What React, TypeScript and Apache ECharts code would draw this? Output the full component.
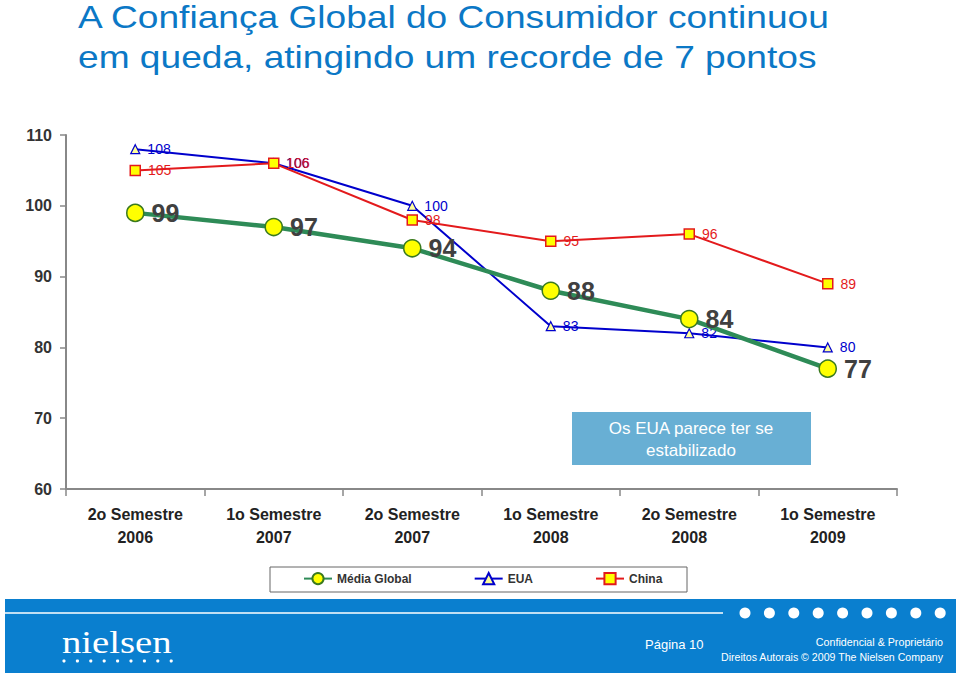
import React, { useEffect, useRef } from "react";
import * as echarts from "echarts";

const categories = [
  "2o Semestre\n2006",
  "1o Semestre\n2007",
  "2o Semestre\n2007",
  "1o Semestre\n2008",
  "2o Semestre\n2008",
  "1o Semestre\n2009",
];
const mediaGlobal = [99, 97, 94, 88, 84, 77];
const eua = [108, 106, 100, 83, 82, 80];
const china = [105, 106, 98, 95, 96, 89];
const yTicks = { min: 60, max: 110, interval: 10 };

const titleLines = [
  "A Confiança Global do Consumidor continuou",
  "em queda, atingindo um recorde de 7 pontos",
];
const noteText = "Os EUA parece ter se\nestabilizado";

const FONT = "'Liberation Sans', Arial, Helvetica, sans-serif";

export default function App() {
  const ref = useRef<HTMLDivElement>(null);

  useEffect(() => {
    if (!ref.current) return;
    const chart = echarts.init(ref.current, null, { renderer: "svg" });

    const bigDots = Array.from({ length: 9 }, (_, i) => ({
      type: "circle",
      shape: { cx: 745 + i * 24.4, cy: 613, r: 5.5 },
      style: { fill: "#ffffff" },
      silent: true,
    }));
    const logoDots = Array.from({ length: 9 }, (_, i) => ({
      type: "circle",
      shape: { cx: 64 + i * 13.4, cy: 661, r: 1.6 },
      style: { fill: "#ffffff" },
      silent: true,
    }));
    const titleTexts = titleLines.map((t, i) => ({
      type: "text",
      x: 78,
      y: 17 + i * 40,
      scaleX: 1.16,
      style: {
        text: t,
        fill: "#0B78C6",
        fontFamily: FONT,
        fontSize: 32,
        textAlign: "left",
        textVerticalAlign: "middle",
      },
      silent: true,
    }));

    chart.setOption({
      animation: false,
      backgroundColor: "#ffffff",
      textStyle: { fontFamily: FONT },
      grid: { left: 66, right: 63, top: 135, bottom: 187 },
      legend: {
        data: ["Média Global", "EUA", "China"],
        left: 303,
        top: 572,
        padding: 0,
        itemGap: 62,
        itemWidth: 28,
        itemHeight: 14,
        textStyle: { fontFamily: FONT, fontSize: 12, fontWeight: "bold", color: "#333" },
      },
      xAxis: {
        type: "category",
        data: categories,
        boundaryGap: true,
        axisLine: { lineStyle: { color: "#888", width: 2 } },
        axisTick: { show: true, length: 7, lineStyle: { color: "#888", width: 1.5 } },
        axisLabel: {
          margin: 14,
          fontFamily: FONT,
          fontSize: 16,
          fontWeight: "bold",
          color: "#222",
          lineHeight: 23,
          interval: 0,
        },
      },
      yAxis: {
        type: "value",
        min: yTicks.min,
        max: yTicks.max,
        interval: yTicks.interval,
        splitLine: { show: false },
        axisLine: { show: true, lineStyle: { color: "#888", width: 2 } },
        axisTick: { show: true, length: 6, lineStyle: { color: "#888", width: 1.5 } },
        axisLabel: {
          margin: 14,
          fontFamily: FONT,
          fontSize: 16,
          fontWeight: "bold",
          color: "#333",
        },
      },
      series: [
        {
          name: "EUA",
          type: "line",
          data: eua,
          symbol: "triangle",
          symbolSize: 9,
          z: 3,
          lineStyle: { color: "#0000CC", width: 2 },
          itemStyle: { color: "#FFFF99", borderColor: "#0000CC", borderWidth: 1.2 },
          label: {
            show: true,
            position: "right",
            distance: 7,
            fontFamily: FONT,
            fontSize: 14,
            color: "#0000CC",
          },
        },
        {
          name: "China",
          type: "line",
          data: china,
          symbol: "rect",
          symbolSize: 10,
          z: 4,
          lineStyle: { color: "#E31A1C", width: 2 },
          itemStyle: { color: "#FFFF00", borderColor: "#E31A1C", borderWidth: 1.5 },
          label: {
            show: true,
            position: "right",
            distance: 7,
            fontFamily: FONT,
            fontSize: 14,
            color: "#E31A1C",
          },
        },
        {
          name: "Média Global",
          type: "line",
          data: mediaGlobal,
          symbol: "circle",
          symbolSize: 17,
          z: 5,
          lineStyle: { color: "#2E8B57", width: 4.5 },
          itemStyle: { color: "#FFFF00", borderColor: "#3A7A1E", borderWidth: 1.5 },
          label: {
            show: true,
            position: "right",
            distance: 7,
            fontFamily: FONT,
            fontSize: 25,
            fontWeight: "bold",
            color: "#404040",
          },
        },
      ],
      graphic: [
        ...titleTexts,
        {
          type: "rect",
          shape: { x: 270, y: 567, width: 417, height: 25 },
          style: { fill: "none", stroke: "#666", lineWidth: 1 },
          silent: true,
          z: -1,
        },
        {
          type: "rect",
          shape: { x: 572, y: 412, width: 239, height: 53 },
          style: { fill: "#68AFD4" },
          silent: true,
        },
        {
          type: "text",
          x: 691,
          y: 439,
          style: {
            text: noteText,
            fill: "#ffffff",
            fontFamily: FONT,
            fontSize: 17,
            lineHeight: 22,
            textAlign: "center",
            textVerticalAlign: "middle",
          },
          silent: true,
        },
        {
          type: "rect",
          shape: { x: 5, y: 599, width: 951, height: 74 },
          style: { fill: "#0A7FCF" },
          silent: true,
        },
        {
          type: "line",
          shape: { x1: 5, y1: 613, x2: 723, y2: 613 },
          style: { stroke: "#ffffff", lineWidth: 1.5 },
          silent: true,
        },
        ...bigDots,
        {
          type: "text",
          x: 62,
          y: 642,
          scaleX: 1.21,
          style: {
            text: "nielsen",
            fill: "#ffffff",
            fontFamily: "'Liberation Serif', 'Times New Roman', serif",
            fontSize: 32,
            textAlign: "left",
            textVerticalAlign: "middle",
          },
          silent: true,
        },
        ...logoDots,
        {
          type: "text",
          x: 645,
          y: 644,
          style: {
            text: "Página 10",
            fill: "#ffffff",
            fontFamily: FONT,
            fontSize: 13,
            textAlign: "left",
            textVerticalAlign: "middle",
          },
          silent: true,
        },
        {
          type: "text",
          x: 943,
          y: 642,
          style: {
            text: "Confidencial & Proprietário",
            fill: "#ffffff",
            fontFamily: FONT,
            fontSize: 10.7,
            textAlign: "right",
            textVerticalAlign: "middle",
          },
          silent: true,
        },
        {
          type: "text",
          x: 943,
          y: 657,
          style: {
            text: "Direitos Autorais © 2009 The Nielsen Company",
            fill: "#ffffff",
            fontFamily: FONT,
            fontSize: 10.6,
            textAlign: "right",
            textVerticalAlign: "middle",
          },
          silent: true,
        },
      ],
    });

    return () => chart.dispose();
  }, []);

  return (
    <div
      ref={ref}
      style={{ position: "fixed", left: 0, top: 0, width: 960, height: 676 }}
    />
  );
}
